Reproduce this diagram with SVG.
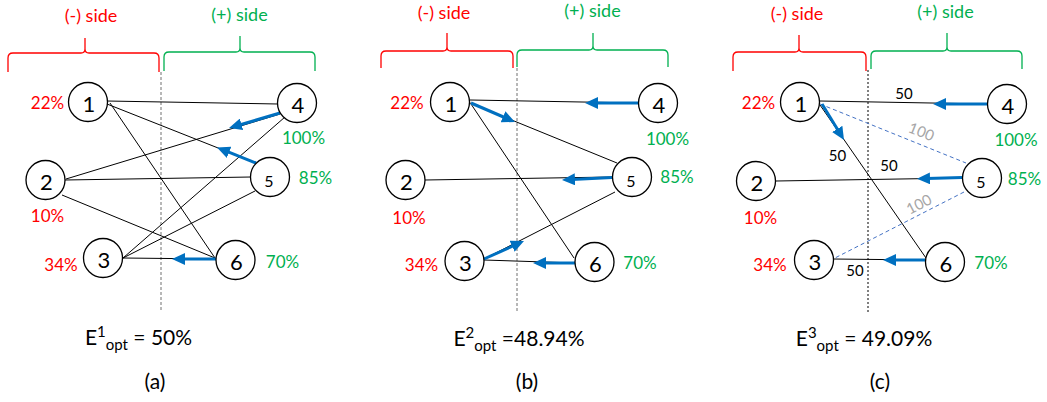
<svg xmlns="http://www.w3.org/2000/svg" width="1047" height="402" viewBox="0 0 1047 402">
<defs>
<style>
text{font-family:Lato,"Liberation Sans",sans-serif}
.brR{fill:none;stroke:#FF0000;stroke-width:1.3}
.brG{fill:none;stroke:#00B050;stroke-width:1.3}
.neg{fill:#FF0000;font-size:17px;text-anchor:middle}
.pos{fill:#00B050;font-size:17px;text-anchor:middle}
.sneg{fill:#FF0000;font-size:18px;text-anchor:middle}
.spos{fill:#00B050;font-size:18px;text-anchor:middle}
.node circle{fill:#fff;stroke:#000;stroke-width:1.3}
.num{font-size:22px;text-anchor:middle;fill:#000}
.small{font-size:16px}
.edge{stroke:#000;stroke-width:1;fill:none}
.arr{stroke:#0070C0;stroke-width:3;fill:none;marker-end:url(#ah)}
.bdash{stroke:#4472C4;stroke-width:1;stroke-dasharray:4 3;fill:none}
.div{stroke:#707070;stroke-width:1;stroke-dasharray:3 2}
.divk{stroke:#000;stroke-width:1;stroke-dasharray:2 2}
.w{font-size:15px;text-anchor:middle;fill:#000}
.g{font-size:15px;text-anchor:middle;fill:#A6A6A6}
.eq{font-size:21px;text-anchor:middle;fill:#000}
.cap{font-size:21px;text-anchor:middle;fill:#000}
</style>
<marker id="ah" markerUnits="userSpaceOnUse" markerWidth="13" markerHeight="12" viewBox="0 0 13 12" refX="3" refY="6" orient="auto">
<path d="M0,0 L13,6 L0,12 z" fill="#0070C0"/>
</marker>
</defs>

<!-- side braces and labels -->
<g id="sides">
<path class="brR" d="M8 72 V58 Q8 53 13 53 H81 Q85 53 85 49 V38 M85 49 Q85 53 89 53 H154 Q159 53 159 58 V72"/>
<path class="brG" d="M164 71 V57 Q164 52 169 52 H236 Q240 52 240 48 V36 M240 48 Q240 52 244 52 H310 Q315 52 315 57 V71"/>
<text class="sneg" x="91" y="22">(-) side</text>
<text class="spos" x="239.5" y="21">(+) side</text>

<path class="brR" d="M381 68 V56 Q381 51 386 51 H443 Q447 51 447 47 V33 M447 47 Q447 51 451 51 H508 Q513 51 513 56 V68"/>
<path class="brG" d="M517 67 V55 Q517 50 522 50 H589 Q593 50 593 46 V33 M593 46 Q593 50 597 50 H663 Q668 50 668 55 V67"/>
<text class="sneg" x="444" y="19">(-) side</text>
<text class="spos" x="592.5" y="17">(+) side</text>

<path class="brR" d="M733 71 V57 Q733 52 738 52 H795 Q799 52 799 48 V35 M799 48 Q799 52 803 52 H861 Q866 52 866 57 V71"/>
<path class="brG" d="M871 69 V56 Q871 51 876 51 H943 Q947 51 947 47 V33 M947 47 Q947 51 951 51 H1017 Q1022 51 1022 56 V69"/>
<text class="sneg" x="797" y="20">(-) side</text>
<text class="spos" x="945.5" y="18">(+) side</text>

<line class="div" x1="161" y1="72" x2="161" y2="312"/>
<line class="div" x1="517" y1="68" x2="517" y2="312"/>
<line class="divk" x1="868" y1="70" x2="868" y2="312"/>
</g>

<!-- connectors -->
<g id="connectors">
<!-- panel a -->
<line class="edge" x1="107" y1="101" x2="278" y2="104"/>
<line class="edge" x1="107" y1="104" x2="256" y2="163"/>
<line class="edge" x1="110" y1="103" x2="215" y2="258"/>
<line class="edge" x1="66" y1="179" x2="280" y2="114"/>
<line class="edge" x1="285" y1="117" x2="123" y2="258"/>
<line class="edge" x1="65" y1="180" x2="251" y2="177"/>
<line class="edge" x1="62" y1="195" x2="215" y2="258"/>
<line class="edge" x1="255" y1="191" x2="123" y2="258"/>
<line class="edge" x1="123" y1="258" x2="216" y2="259"/>
<line class="arr" x1="280" y1="113" x2="238.6" y2="125.2"/>
<line class="arr" x1="256" y1="163" x2="226.3" y2="151.2"/>
<line class="arr" x1="216" y1="259" x2="182" y2="259"/>
<!-- panel b -->
<line class="edge" x1="470" y1="100" x2="638" y2="103"/>
<line class="edge" x1="470" y1="103" x2="617" y2="163"/>
<line class="edge" x1="471" y1="104" x2="574" y2="258"/>
<line class="edge" x1="425" y1="180" x2="612" y2="177"/>
<line class="edge" x1="615" y1="192" x2="484" y2="259"/>
<line class="edge" x1="484" y1="260" x2="575" y2="263"/>
<line class="arr" x1="638" y1="103" x2="595" y2="103"/>
<line class="arr" x1="471" y1="103" x2="505.8" y2="118"/>
<line class="arr" x1="612" y1="177.5" x2="572" y2="179.5"/>
<line class="arr" x1="484" y1="259" x2="514.9" y2="245.1"/>
<line class="arr" x1="575" y1="263" x2="543" y2="263"/>
<!-- panel c -->
<line class="edge" x1="820" y1="101" x2="987" y2="104"/>
<line class="bdash" x1="820" y1="104" x2="966" y2="163"/>
<line class="edge" x1="820" y1="105" x2="926" y2="258"/>
<line class="edge" x1="776" y1="181" x2="962" y2="178"/>
<line class="bdash" x1="964" y1="192" x2="833" y2="259"/>
<line class="edge" x1="833" y1="259" x2="926" y2="260"/>
<line class="arr" x1="987" y1="104" x2="943" y2="104"/>
<line class="arr" x1="822" y1="104" x2="838.8" y2="131.5"/>
<line class="arr" x1="962" y1="177.5" x2="927" y2="178.5"/>
<line class="arr" x1="925" y1="260" x2="893" y2="260"/>
<text class="w" x="904" y="99">50</text>
<text class="w" x="837.5" y="161">50</text>
<text class="w" x="889" y="171">50</text>
<text class="w" x="855" y="276">50</text>
<text class="g" x="921.5" y="137" transform="rotate(22 921.5 131.5)">100</text>
<text class="g" x="919" y="209.5" transform="rotate(-27 919 204)">100</text>
</g>

<!-- panel a nodes -->
<g id="a-n1" class="node"><circle cx="88" cy="102" r="19.5"/><text class="num" x="89" y="112">1</text><text class="neg" x="47.5" y="109">22%</text></g>
<g id="a-n2" class="node"><circle cx="45.5" cy="180" r="19.5"/><text class="num" x="46.5" y="190">2</text><text class="neg" x="47.5" y="222">10%</text></g>
<g id="a-n3" class="node"><circle cx="103" cy="258" r="19.5"/><text class="num" x="104" y="268">3</text><text class="neg" x="61" y="271">34%</text></g>
<g id="a-n4" class="node"><circle cx="297" cy="103" r="19.5"/><text class="num" x="298" y="113">4</text><text class="pos" x="303.5" y="144">100%</text></g>
<g id="a-n5" class="node"><circle cx="270" cy="177" r="19.5"/><text class="num small" x="269" y="187">5</text><text class="pos" x="315.5" y="184">85%</text></g>
<g id="a-n6" class="node"><circle cx="235.5" cy="260" r="19.5"/><text class="num" x="236.5" y="270">6</text><text class="pos" x="282.5" y="268">70%</text></g>

<!-- panel b nodes -->
<g id="b-n1" class="node"><circle cx="450" cy="102" r="19.5"/><text class="num" x="451" y="112">1</text><text class="neg" x="407" y="109">22%</text></g>
<g id="b-n2" class="node"><circle cx="405.5" cy="180" r="19.5"/><text class="num" x="406.5" y="190">2</text><text class="neg" x="409" y="224">10%</text></g>
<g id="b-n3" class="node"><circle cx="464.5" cy="261" r="19.5"/><text class="num" x="465.5" y="271">3</text><text class="neg" x="421.5" y="271">34%</text></g>
<g id="b-n4" class="node"><circle cx="658" cy="103" r="19.5"/><text class="num" x="659" y="113">4</text><text class="pos" x="667.5" y="145">100%</text></g>
<g id="b-n5" class="node"><circle cx="632" cy="177" r="19.5"/><text class="num small" x="631" y="187">5</text><text class="pos" x="677" y="183">85%</text></g>
<g id="b-n6" class="node"><circle cx="594.5" cy="262" r="19.5"/><text class="num" x="595.5" y="272">6</text><text class="pos" x="640" y="269">70%</text></g>

<!-- panel c nodes -->
<g id="c-n1" class="node"><circle cx="800" cy="102" r="19.5"/><text class="num" x="801" y="112">1</text><text class="neg" x="758.5" y="109">22%</text></g>
<g id="c-n2" class="node"><circle cx="756" cy="181" r="19.5"/><text class="num" x="757" y="191">2</text><text class="neg" x="760.5" y="224">10%</text></g>
<g id="c-n3" class="node"><circle cx="814" cy="260" r="19.5"/><text class="num" x="815" y="270">3</text><text class="neg" x="770" y="271">34%</text></g>
<g id="c-n4" class="node"><circle cx="1007" cy="104" r="19.5"/><text class="num" x="1008" y="114">4</text><text class="pos" x="1016" y="146">100%</text></g>
<g id="c-n5" class="node"><circle cx="982" cy="178" r="19.5"/><text class="num small" x="981" y="188">5</text><text class="pos" x="1024.5" y="185">85%</text></g>
<g id="c-n6" class="node"><circle cx="945" cy="262" r="19.5"/><text class="num" x="946" y="272">6</text><text class="pos" x="991" y="269">70%</text></g>

<!-- captions -->
<g id="captions">
<text class="eq" x="138.5" y="345">E<tspan font-size="15" dy="-8">1</tspan><tspan font-size="15" dy="13">opt</tspan><tspan dy="-5"> = 50%</tspan></text>
<text class="eq" x="519" y="346">E<tspan font-size="15" dy="-8">2</tspan><tspan font-size="15" dy="13">opt</tspan><tspan dy="-5"> =48.94%</tspan></text>
<text class="eq" x="864" y="346">E<tspan font-size="15" dy="-8">3</tspan><tspan font-size="15" dy="13">opt</tspan><tspan dy="-5"> = 49.09%</tspan></text>
<text class="cap" x="155" y="389">(a)</text>
<text class="cap" x="527" y="389">(b)</text>
<text class="cap" x="880" y="389">(c)</text>
</g>
</svg>
